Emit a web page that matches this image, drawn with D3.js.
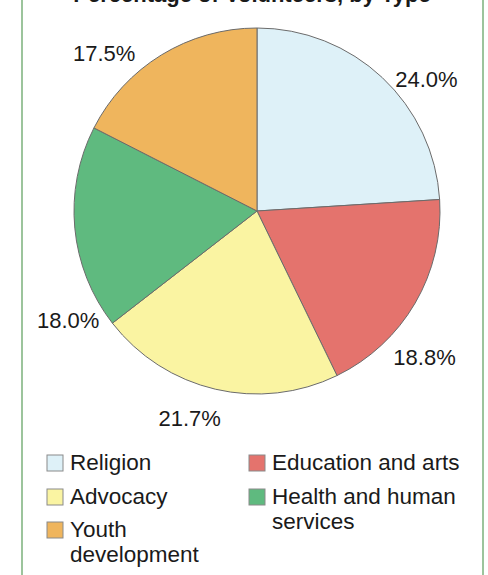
<!DOCTYPE html>
<html>
<head>
<meta charset="utf-8">
<script src="https://cdn.jsdelivr.net/npm/d3@7"></script>
<style>
  body { margin: 0; background: #fff; }
  text { font-family: "Liberation Sans", Arial, sans-serif; fill: #1a1a1a; }
</style>
</head>
<body>
<script>
var categories = ["Religion", "Education and arts", "Advocacy", "Health and human services", "Youth development"];
var values = [24.0, 18.8, 21.7, 18.0, 17.5];
var colors = ["#def1f8", "#e4736d", "#faf4a2", "#5fba7f", "#efb55d"];
var title = "Percentage of Volunteers, by Type";

// legend layout: column, row, wrapped lines
var legendLines = [["Religion"], ["Education and arts"], ["Advocacy"], ["Health and human", "services"], ["Youth", "development"]];
var legendCol = [0, 1, 0, 1, 0];
var legendRow = [0, 0, 1, 1, 2];

// label placement (angle in degrees clockwise from top, distance from centre)
var labelAngle = [52, 131, 198, 240, 316];
var labelDist = [215, 222, 218, 218, 220];

var w = 488;
var h = 575;
var cx = 257, cy = 211, r = 183;

var svg = d3.select("body")
  .append("svg")
  .attr("width", w)
  .attr("height", h);

// green frame
svg.append("rect")
  .attr("x", 22)
  .attr("y", -10)
  .attr("width", 461)
  .attr("height", h + 20)
  .attr("fill", "none")
  .attr("stroke", "#9cc49c")
  .attr("stroke-width", 2);

// title is mostly cropped off the top in the reference
svg.append("text")
  .attr("x", 252)
  .attr("y", 2)
  .attr("text-anchor", "middle")
  .style("font-size", "22px")
  .style("font-weight", "bold")
  .text(title);

var pie = d3.pie().sort(null).value(function(d) { return d; });
var arc = d3.arc().innerRadius(0).outerRadius(r);

var g = svg.append("g").attr("transform", "translate(" + cx + "," + cy + ")");

g.selectAll("path")
  .data(pie(values))
  .enter()
  .append("path")
  .attr("d", arc)
  .attr("fill", function(d, i) { return colors[i]; })
  .attr("stroke", "#6b6b6b")
  .attr("stroke-width", 1);

g.selectAll(".lbl")
  .data(values)
  .enter()
  .append("text")
  .attr("class", "lbl")
  .attr("x", function(d, i) { return labelDist[i] * Math.sin(labelAngle[i] * Math.PI / 180); })
  .attr("y", function(d, i) { return -labelDist[i] * Math.cos(labelAngle[i] * Math.PI / 180); })
  .attr("dy", "0.36em")
  .attr("text-anchor", "middle")
  .style("font-size", "22px")
  .text(function(d) { return d.toFixed(1) + "%"; });

var colX = [47, 249];
var rowY = [455, 489, 522];

var leg = svg.selectAll(".leg")
  .data(categories)
  .enter()
  .append("g")
  .attr("class", "leg")
  .attr("transform", function(d, i) {
    return "translate(" + colX[legendCol[i]] + "," + rowY[legendRow[i]] + ")";
  });

leg.append("rect")
  .attr("width", 16)
  .attr("height", 16)
  .attr("fill", function(d, i) { return colors[i]; })
  .attr("stroke", "#8a8a8a")
  .attr("stroke-width", 1);

leg.append("text")
  .attr("x", 23)
  .attr("y", 15)
  .style("font-size", "22.5px")
  .selectAll("tspan")
  .data(function(d, i) { return legendLines[i]; })
  .enter()
  .append("tspan")
  .attr("x", 23)
  .attr("dy", function(d, j) { return j === 0 ? 0 : 25; })
  .text(function(d) { return d; });
</script>
</body>
</html>
